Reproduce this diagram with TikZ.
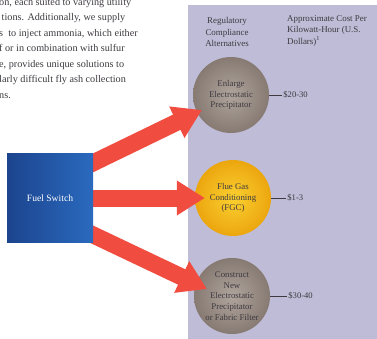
\documentclass[tikz,border=0pt]{standalone}
\usepackage{fontspec}
\setmainfont{Liberation Serif}
\usepackage{tikz}
\usetikzlibrary{arrows.meta, positioning, calc}
\pgfdeclarelayer{front}
\pgfsetlayers{main,front}
\definecolor{panelblue}{RGB}{190,188,214}
\definecolor{inkgray}{RGB}{62,58,64}
\definecolor{arrowred}{RGB}{240,76,64}
\definecolor{ballgray}{RGB}{176,165,157}
\definecolor{balldark}{RGB}{134,122,114}
\definecolor{ballyellow}{RGB}{250,208,48}
\definecolor{balldeep}{RGB}{236,166,14}
\definecolor{switchdark}{RGB}{28,68,142}
\definecolor{switchlight}{RGB}{42,106,190}

\begin{document}
\begin{tikzpicture}[x=1pt, y=-1pt,
    option/.style={circle, minimum size=76pt, inner sep=0pt, align=center, text=inkgray,
                   font=\fontsize{8.8}{10.6}\selectfont},
    grayball/.style={option, inner color=ballgray, outer color=balldark},
    yellowball/.style={option, inner color=ballyellow, outer color=balldeep},
    cost/.style={inner sep=1pt, text=inkgray, font=\fontsize{8.6}{10}\selectfont},
    header/.style={text=inkgray, inner sep=0pt, font=\fontsize{8.9}{11.6}\selectfont},
    tick/.style={draw=inkgray, line width=0.8pt},
    bigarrow/.style={-{Triangle[length=28pt, width=33pt]}, line width=17pt, draw=arrowred}
]
\useasboundingbox (0,0) rectangle (377,339);

% Lavender panel on the right
\fill[panelblue] (188,5) rectangle (377,339);

% Cropped paragraph at the top left
\node[anchor=north west, align=left, inner sep=0pt, text=inkgray,
      font=\fontsize{10.2}{15.5}\selectfont] (bodytext) at (-1,-2)
  {on, each suited to varying utility\\
   \ tions. Additionally, we supply\\
   s \ to inject ammonia, which either\\
   f or in combination with sulfur\\
   e, provides unique solutions to\\
   larly difficult fly ash collection\\
   ns.};

% Column headers
\node[header, align=center] (altheader) at (227,32) {Regulatory\\Compliance\\Alternatives};
\node[header, align=left, anchor=north west] (costheader) at (287,15)
  {Approximate Cost Per\\Kilowatt-Hour (U.S.\\Dollars)\textsuperscript{1}};

% Alternatives
\node[grayball] (enlarge) at (231,95) {Enlarge\\Electrostatic\\Precipitator};
\node[yellowball] (fgc) at (233,198) {Flue Gas\\Conditioning\\(FGC)};
\node[grayball] (construct) at (232,296) {Construct\\New\\Electrostatic\\Precipitator\\or Fabric Filter};

% Costs with leader ticks
\node[cost, right=13pt of enlarge] (costenlarge) {\$20-30};
\node[cost, right=15pt of fgc] (costfgc) {\$1-3};
\node[cost, right=17pt of construct] (costconstruct) {\$30-40};
\draw[tick] (enlarge.east) -- (costenlarge.west);
\draw[tick] (fgc.east) -- (costfgc.west);
\draw[tick] (construct.east) -- (costconstruct.west);

% Fuel switch box, kept in front of the arrow tails
\begin{pgfonlayer}{front}
\node[rectangle, minimum width=86pt, minimum height=88pt, left color=switchdark,
      right color=switchlight, text=white, font=\fontsize{9.6}{11}\selectfont] (fuel) at (50,198) {Fuel Switch};
\end{pgfonlayer}

% Red arrows from the box to each alternative
\coordinate (tailA) at ($(fuel.east)+(-21,-25)$);
\coordinate (headA) at ($(enlarge.center)+(-29,15)$);
\coordinate (tailB) at ($(fuel.east)+(-12,0)$);
\coordinate (headB) at ($(fgc.west)+(10,0)$);
\coordinate (tailC) at ($(fuel.east)+(-21,27)$);
\coordinate (headC) at ($(construct.center)+(-25,-7)$);
\draw[bigarrow] (tailA) -- (headA);
\draw[bigarrow] (tailB) -- (headB);
\draw[bigarrow] (tailC) -- (headC);

\end{tikzpicture}
\end{document}
